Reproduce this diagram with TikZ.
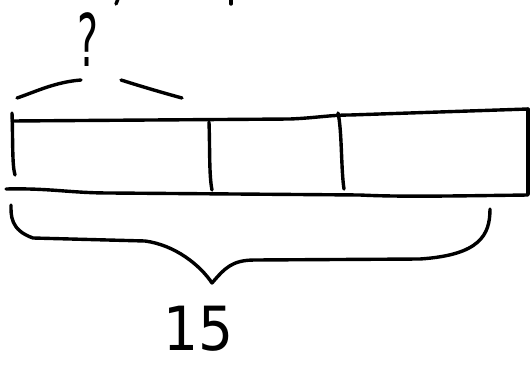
\documentclass[tikz,border=0pt]{standalone}
\usepackage{fontspec}
\setmainfont{DejaVu Sans}
\begin{document}
\begin{tikzpicture}[x=1pt,y=-1pt,
  pen/.style={line width=3.4pt,line cap=round,line join=round},
  hand/.style={inner sep=0pt,font=\fontsize{66}{66}\selectfont}]
\useasboundingbox[fill=white] (0,0) rectangle (531,367);
% cropped fragments at the top edge
\draw[pen] (118,-1) -- (116,4);
\draw[pen] (231,-1) -- (231,4);
% question mark and its brace
\node[hand,xscale=0.6,yscale=1.1] (q) at (88,40) {?};
\draw[pen] (17,98) .. controls (35,92) and (55,82) .. (81,80);
\draw[pen] (121,80) .. controls (140,86) and (160,92) .. (182,98);
% tape
\draw[pen] (12,121) -- (290,119) .. controls (315,118) and (330,115) .. (350,115) -- (528,109);
\draw[pen] (12,113) .. controls (13,140) and (12,165) .. (15,175);
\draw[pen] (6,189) .. controls (50,188) and (70,193) .. (110,193) -- (360,195) .. controls (400,197) and (450,196) .. (528,195);
\draw[pen] (528,109) -- (528,194);
\draw[pen] (209,122) .. controls (210,150) and (209,175) .. (212,190);
\draw[pen] (338,113) .. controls (342,130) and (341,170) .. (344,189);
% bottom brace
\draw[pen] (11,205) .. controls (11,215) and (10,230) .. (33,238)
  -- (145,241) .. controls (175,245) and (200,265) .. (212,283)
  .. controls (225,268) and (232,260) .. (255,260)
  -- (420,259) .. controls (480,255) and (490,235) .. (490,209);
% total
\node[inner sep=0pt,font=\fontsize{58}{58}\selectfont,xscale=0.95,yscale=1.05] (total) at (199,329) {15};
\end{tikzpicture}
\end{document}
